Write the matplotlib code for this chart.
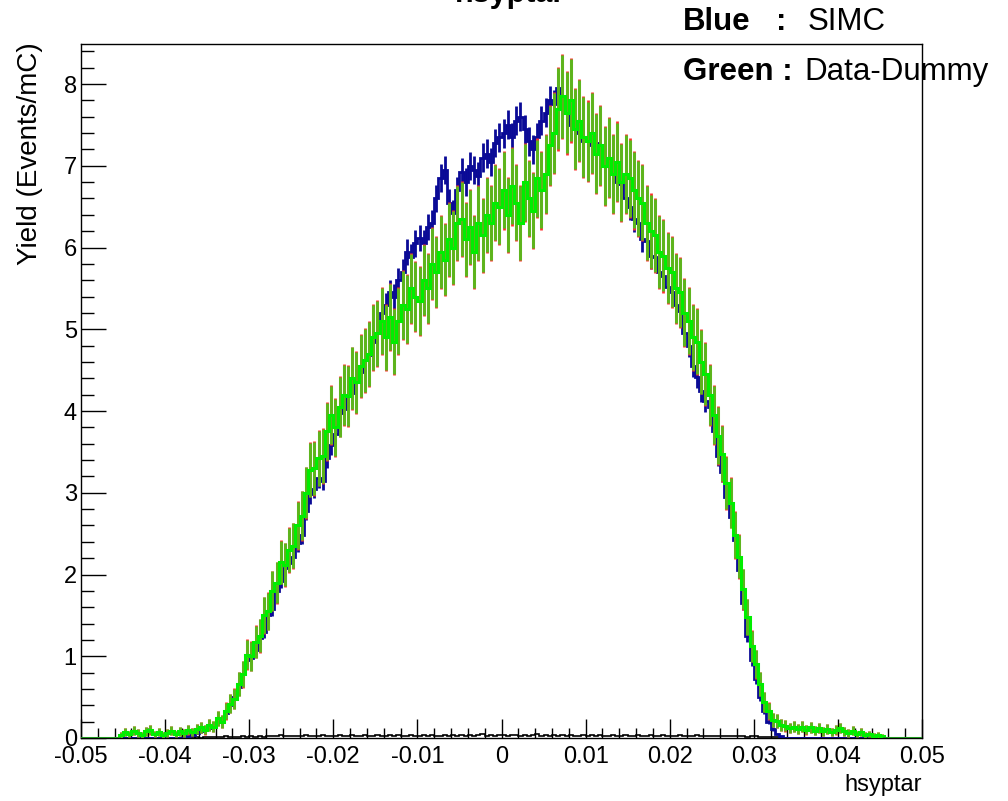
import numpy as np
import matplotlib
matplotlib.use("Agg")
import matplotlib.pyplot as plt
from matplotlib.ticker import FixedLocator, MultipleLocator

plt.rcParams["font.family"] = ["Liberation Sans", "DejaVu Sans"]
plt.rcParams["axes.unicode_minus"] = False

# histogram binning (hsyptar, 200 bins from -0.05 to 0.05)
X_MIN, X_MAX, N_BINS = -0.05, 0.05, 200

# Blue : SIMC yield per bin (Events/mC)
SIMC = [
    0, 0, 0, 0, 0, 0, 0, 0, 0, 0,
    0, 0, 0, 0, 0, 0, 0, 0, 0, 0,
    0, 0, 0, 0, 0, 0.02, 0.04, 0.06, 0.08, 0.10,
    0.12, 0.15, 0.19, 0.24, 0.31, 0.40, 0.50, 0.63, 0.78, 0.95,
    0.98, 1.08, 1.22, 1.30, 1.50, 1.58, 1.80, 1.92, 2.08, 2.14,
    2.22, 2.38, 2.48, 2.78, 2.98, 3.05, 3.18, 3.15, 3.42, 3.58,
    3.72, 3.98, 4.02, 4.18, 4.22, 4.38, 4.48, 4.62, 4.68, 4.85,
    4.95, 5.20, 5.30, 5.45, 5.40, 5.60, 5.70, 5.95, 5.88, 6.05,
    6.12, 6.05, 6.25, 6.30, 6.60, 6.85, 6.95, 6.55, 6.42, 6.70,
    6.92, 6.80, 7.00, 6.95, 6.88, 7.10, 7.15, 7.05, 7.28, 7.35,
    7.40, 7.50, 7.35, 7.55, 7.60, 7.45, 7.30, 7.20, 7.35, 7.55,
    7.65, 7.80, 7.75, 7.95, 7.80, 7.70, 7.50, 7.45, 7.40, 7.30,
    7.35, 7.25, 7.28, 7.15, 7.10, 7.00, 6.95, 6.80, 6.78, 6.60,
    6.50, 6.35, 6.30, 6.10, 6.08, 5.90, 5.88, 5.70, 5.65, 5.52,
    5.45, 5.30, 5.22, 4.95, 4.80, 4.55, 4.42, 4.25, 4.12, 4.05,
    3.75, 3.45, 3.25, 2.95, 2.70, 2.42, 2.05, 1.65, 1.25, 0.95,
    0.72, 0.50, 0.33, 0.20, 0.11, 0.05, 0.02, 0, 0, 0,
    0, 0, 0, 0, 0, 0, 0, 0, 0, 0,
    0, 0, 0, 0, 0, 0, 0, 0, 0, 0,
    0, 0, 0, 0, 0, 0, 0, 0, 0, 0,
]

# Green : Data-Dummy yield per bin
DATA_DUMMY = [
    0, 0, 0, 0, 0, 0, 0, 0, 0, 0.04,
    0.07, 0.05, 0.09, 0.06, 0.04, 0.08, 0.10, 0.05, 0.07, 0.04,
    0.06, 0.09, 0.05, 0.08, 0.06, 0.10, 0.07, 0.11, 0.13, 0.10,
    0.16, 0.14, 0.24, 0.20, 0.33, 0.42, 0.48, 0.66, 0.78, 1.02,
    1.00, 1.18, 1.25, 1.50, 1.55, 1.80, 1.90, 2.15, 2.12, 2.30,
    2.35, 2.60, 2.72, 3.00, 3.28, 3.30, 3.42, 3.45, 3.75, 3.95,
    3.80, 4.05, 4.20, 4.18, 4.40, 4.35, 4.55, 4.62, 4.70, 4.90,
    4.95, 5.10, 4.90, 5.15, 4.85, 5.10, 5.30, 5.25, 5.50, 5.40,
    5.35, 5.60, 5.50, 5.80, 5.70, 5.95, 5.85, 6.10, 6.00, 6.30,
    6.35, 6.10, 6.25, 5.95, 6.30, 6.15, 6.40, 6.30, 6.55, 6.50,
    6.70, 6.40, 6.75, 6.55, 6.30, 6.80, 6.60, 6.45, 6.85, 6.70,
    6.90, 7.25, 7.40, 7.70, 7.85, 7.65, 7.80, 7.45, 7.55, 7.35,
    7.30, 7.40, 7.15, 7.25, 7.00, 7.10, 6.90, 7.05, 6.80, 6.90,
    6.85, 6.70, 6.60, 6.55, 6.30, 6.20, 6.15, 5.95, 5.90, 5.75,
    5.70, 5.50, 5.45, 5.20, 5.10, 4.90, 4.85, 4.60, 4.45, 4.20,
    3.95, 3.70, 3.48, 3.12, 2.88, 2.48, 2.22, 1.82, 1.48, 1.12,
    0.90, 0.66, 0.44, 0.33, 0.22, 0.21, 0.16, 0.15, 0.12, 0.14,
    0.11, 0.14, 0.10, 0.13, 0.09, 0.12, 0.08, 0.11, 0.07, 0.10,
    0.12, 0.08, 0.06, 0.09, 0.05, 0.07, 0.04, 0.05, 0.03, 0.04,
    0.02, 0, 0, 0, 0, 0, 0, 0, 0, 0,
]

# black dummy histogram, close to zero
DUMMY = [
    0, 0, 0, 0, 0, 0, 0, 0, 0, 0,
    0, 0, 0, 0.005, 0, 0, 0.005, 0, 0, 0.005,
    0, 0.005, 0, 0, 0.008, 0, 0.005, 0.01, 0.005, 0.01,
    0.012, 0.008, 0.015, 0.01, 0.02, 0.012, 0.018, 0.015, 0.022, 0.018,
    0.02, 0.015, 0.025, 0.018, 0.03, 0.02, 0.022, 0.035, 0.02, 0.025,
    0.03, 0.02, 0.028, 0.035, 0.022, 0.03, 0.025, 0.04, 0.028, 0.03,
    0.025, 0.035, 0.03, 0.022, 0.04, 0.03, 0.025, 0.035, 0.03, 0.028,
    0.035, 0.025, 0.03, 0.04, 0.028, 0.035, 0.03, 0.025, 0.038, 0.03,
    0.03, 0.04, 0.028, 0.035, 0.03, 0.025, 0.04, 0.03, 0.035, 0.028,
    0.035, 0.03, 0.04, 0.028, 0.035, 0.045, 0.03, 0.035, 0.028, 0.04,
    0.035, 0.03, 0.04, 0.035, 0.028, 0.04, 0.03, 0.035, 0.045, 0.03,
    0.035, 0.028, 0.04, 0.03, 0.035, 0.025, 0.04, 0.03, 0.028, 0.035,
    0.03, 0.04, 0.025, 0.035, 0.03, 0.028, 0.04, 0.03, 0.025, 0.035,
    0.03, 0.025, 0.035, 0.028, 0.03, 0.04, 0.025, 0.03, 0.035, 0.028,
    0.025, 0.03, 0.035, 0.025, 0.03, 0.022, 0.035, 0.025, 0.03, 0.02,
    0.025, 0.03, 0.02, 0.028, 0.022, 0.025, 0.02, 0.03, 0.018, 0.022,
    0.02, 0.015, 0.018, 0.012, 0.01, 0.008, 0.005, 0.005, 0, 0.005,
    0, 0.005, 0, 0, 0.005, 0, 0, 0, 0.005, 0,
    0, 0, 0, 0, 0, 0, 0, 0, 0, 0,
    0, 0, 0, 0, 0, 0, 0, 0, 0, 0,
]

X_TICKS = [-0.05, -0.04, -0.03, -0.02, -0.01, 0, 0.01, 0.02, 0.03, 0.04, 0.05]
X_TICK_LABELS = ["-0.05", "-0.04", "-0.03", "-0.02", "-0.01", "0",
                 "0.01", "0.02", "0.03", "0.04", "0.05"]
Y_TICKS = [0, 1, 2, 3, 4, 5, 6, 7, 8]

# error bar size ~ sqrt(N) scaled to Events/mC
SIMC_ERR_SCALE = 0.065
DATA_ERR_SCALE = 0.18

BLUE = "#0a0a96"
GREEN = "#00ee00"

edges = np.linspace(X_MIN, X_MAX, N_BINS + 1)
centers = 0.5 * (edges[:-1] + edges[1:])
simc = np.array(SIMC)
data = np.array(DATA_DUMMY)
dummy = np.array(DUMMY)

fig = plt.figure(figsize=(10.08, 8.01), dpi=100)
ax = fig.add_axes([81 / 1008, 1 - 738 / 801, (922 - 81) / 1008, (738 - 44) / 801])

# black dummy
ax.stairs(dummy, edges, color="black", lw=1.2, zorder=2)

# blue SIMC with error bars
m = simc > 0
ax.errorbar(centers[m], simc[m], yerr=SIMC_ERR_SCALE * np.sqrt(simc[m]), fmt="none",
            ecolor=BLUE, elinewidth=2.0, zorder=3)
ax.stairs(simc, edges, color=BLUE, lw=2.0, zorder=3)

# data: red underneath, green on top
m = data > 0
derr = DATA_ERR_SCALE * np.sqrt(data[m])
ax.errorbar(centers[m], data[m], yerr=derr * 1.03, fmt="none", ecolor="#ff3030",
            elinewidth=2.0, zorder=4)
ax.errorbar(centers[m], data[m], yerr=derr, fmt="none", ecolor="#4cc21a",
            elinewidth=2.2, alpha=0.9, zorder=5)
ax.stairs(data, edges, color=GREEN, lw=2.2, zorder=6)
ax.plot([X_MIN, -0.0455], [0, 0], color="#228b22", lw=2.0, zorder=6)
ax.plot([0.0455, X_MAX], [0, 0], color="#228b22", lw=2.0, zorder=6)

ax.set_xlim(X_MIN, X_MAX)
ax.set_ylim(0, 8.49)
ax.xaxis.set_major_locator(FixedLocator(X_TICKS))
ax.set_xticklabels(X_TICK_LABELS)
ax.xaxis.set_minor_locator(MultipleLocator(0.002))
ax.yaxis.set_major_locator(FixedLocator(Y_TICKS))
ax.yaxis.set_minor_locator(MultipleLocator(0.2))
ax.tick_params(axis="both", which="both", direction="in", top=False, right=False,
               labelsize=17, width=1.0, color="black")
ax.tick_params(axis="x", which="major", length=14, pad=6)
ax.tick_params(axis="x", which="minor", length=7)
ax.tick_params(axis="y", which="major", length=18, pad=3)
ax.tick_params(axis="y", which="minor", length=9)
for s in ax.spines.values():
    s.set_linewidth(1.0)

fig.text(30 / 1008, 1 - 42 / 801, "Yield (Events/mC)", rotation=90,
         ha="center", va="top", fontsize=20)
fig.text(922 / 1008, 1 - 785 / 801, "hsyptar", ha="right", va="center", fontsize=17)
fig.text(510 / 1008, 1 - 2 / 801, "hsyptar", ha="center", va="baseline",
         fontsize=22, fontweight="bold")

fig.text(683 / 1008, 1 - 22 / 801, "Blue", ha="left", va="center", fontsize=22.5, fontweight="bold")
fig.text(776 / 1008, 1 - 22 / 801, ":", ha="left", va="center", fontsize=22.5, fontweight="bold")
fig.text(808 / 1008, 1 - 22 / 801, "SIMC", ha="left", va="center", fontsize=22.5)
fig.text(683 / 1008, 1 - 72 / 801, "Green :", ha="left", va="center", fontsize=22.5, fontweight="bold")
fig.text(804 / 1008, 1 - 72 / 801, "Data-Dummy", ha="left", va="center", fontsize=22.5)

fig.savefig("out.png", dpi=100)
